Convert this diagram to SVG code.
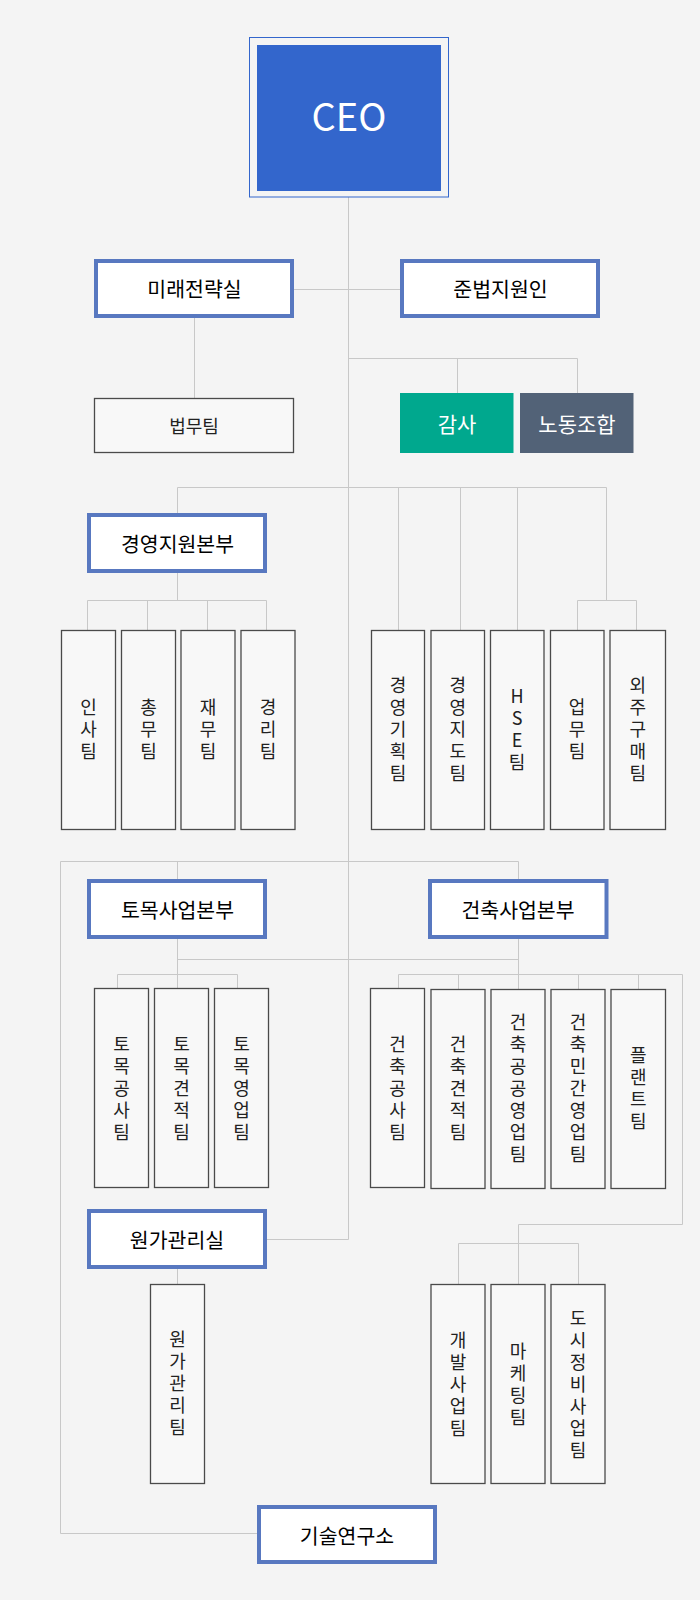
<svg xmlns="http://www.w3.org/2000/svg" width="700" height="1600" viewBox="0 0 700 1600">
<style>
.bg{fill:#f4f4f4}
.ln{stroke:#c8c8c8;stroke-width:1;fill:none}
.hd{fill:#ffffff;stroke:#5878c0;stroke-width:4}
.tm{fill:#f8f8f8;stroke:#4a4a4a;stroke-width:1.3}
.t{font-family:"Noto Sans CJK KR","Noto Sans",sans-serif;text-anchor:middle;dominant-baseline:central}
.ht{font-size:20.5px;fill:#000;font-weight:400}
.vt{font-family:"Noto Sans CJK KR",sans-serif;font-size:18px;fill:#222;text-anchor:middle;writing-mode:vertical-rl;text-orientation:upright;letter-spacing:4px}
.wt{font-size:21px;fill:#ffffff}
</style>
<rect class="bg" x="0" y="0" width="700" height="1600"/>
<g id="connectors">
<path class="ln" d="M348.5 197V1239.5"/>
<path class="ln" d="M294 289.5H400"/>
<path class="ln" d="M194.5 318V398"/>
<path class="ln" d="M348.5 358.5H577.5V393M457.5 358.5V393"/>
<path class="ln" d="M177.5 513V487.5H606.5V600.5M398.5 487.5V630M460.5 487.5V630M517.5 487.5V630"/>
<path class="ln" d="M177.5 573V600.5M87.5 630V600.5H266.5V630M147.5 600.5V630M207.5 600.5V630"/>
<path class="ln" d="M577.5 630V600.5H636.5V630"/>
<path class="ln" d="M257 1533.5H60.5V861.5H518.5V879M177.5 861.5V879"/>
<path class="ln" d="M177.5 937V988M177.5 959.5H518.5M518.5 937V989"/>
<path class="ln" d="M117.5 988V974.5H237.5V988"/>
<path class="ln" d="M398.5 988V974.5H682.5V1224.5H518.5V1284M458.5 974.5V989M578.5 974.5V989M638.5 974.5V989"/>
<path class="ln" d="M458.5 1284V1243.5H578.5V1284"/>
<path class="ln" d="M267 1239.5H348.5"/>
<path class="ln" d="M177.5 1267V1284"/>
</g>
<g id="ceo">
<rect x="249.5" y="37.5" width="199" height="159.5" fill="none" stroke="#3366cc" stroke-width="1"/>
<rect x="257" y="45" width="184" height="146" fill="#3366cc"/>
<text class="t" x="349" y="114" font-size="38" fill="#ffffff">CEO</text>
</g>
<g id="future-strategy">
<rect class="hd" x="96" y="261" width="196" height="55"/>
<text class="t ht" x="194.5" y="288">미래전략실</text>
</g>
<g id="compliance">
<rect class="hd" x="402" y="261" width="196" height="55"/>
<text class="t ht" x="500.5" y="288">준법지원인</text>
</g>
<g id="legal">
<rect class="tm" x="94.5" y="398.5" width="199" height="54"/>
<text class="t" x="194" y="425" font-size="18" fill="#222">법무팀</text>
</g>
<g id="audit">
<rect x="400" y="393" width="113.5" height="60" fill="#00a88e"/>
<text class="t wt" x="457" y="422.5">감사</text>
</g>
<g id="union">
<rect x="520" y="393" width="113.5" height="60" fill="#526277"/>
<text class="t wt" x="577" y="422.5">노동조합</text>
</g>
<g id="mgmt-support">
<rect class="hd" x="89" y="515" width="176" height="56"/>
<text class="t ht" x="177.5" y="542.5">경영지원본부</text>
</g>
<g id="hr">
<rect class="tm" x="61.5" y="630.5" width="54" height="199"/>
<text class="vt" x="88.5" y="731">인사팀</text>
</g>
<g id="general-affairs">
<rect class="tm" x="121.5" y="630.5" width="54" height="199"/>
<text class="vt" x="148.5" y="731">총무팀</text>
</g>
<g id="finance">
<rect class="tm" x="181" y="630.5" width="54" height="199"/>
<text class="vt" x="208" y="731">재무팀</text>
</g>
<g id="accounting">
<rect class="tm" x="241" y="630.5" width="54" height="199"/>
<text class="vt" x="268" y="731">경리팀</text>
</g>
<g id="mgmt-planning">
<rect class="tm" x="371.5" y="630.5" width="53" height="199"/>
<text class="vt" x="398" y="731">경영기획팀</text>
</g>
<g id="mgmt-guidance">
<rect class="tm" x="431" y="630.5" width="53.5" height="199"/>
<text class="vt" x="457.7" y="731">경영지도팀</text>
</g>
<g id="hse">
<rect class="tm" x="490.5" y="630.5" width="53.5" height="199"/>
<text class="vt" x="517" y="731">HSE팀</text>
</g>
<g id="business">
<rect class="tm" x="550.5" y="630.5" width="53.5" height="199"/>
<text class="vt" x="577" y="731">업무팀</text>
</g>
<g id="procurement">
<rect class="tm" x="610" y="630.5" width="55.5" height="199"/>
<text class="vt" x="637.7" y="731">외주구매팀</text>
</g>
<g id="civil-hq">
<rect class="hd" x="89" y="881" width="176" height="56"/>
<text class="t ht" x="177.5" y="909">토목사업본부</text>
</g>
<g id="arch-hq">
<rect class="hd" x="430" y="881" width="176.5" height="56"/>
<text class="t ht" x="518" y="909">건축사업본부</text>
</g>
<g id="civil-construction">
<rect class="tm" x="94.5" y="988.5" width="54" height="199"/>
<text class="vt" x="121.5" y="1090">토목공사팀</text>
</g>
<g id="civil-estimate">
<rect class="tm" x="154.5" y="988.5" width="54" height="199"/>
<text class="vt" x="181.5" y="1090">토목견적팀</text>
</g>
<g id="civil-sales">
<rect class="tm" x="214.5" y="988.5" width="54" height="199"/>
<text class="vt" x="241.5" y="1090">토목영업팀</text>
</g>
<g id="arch-construction">
<rect class="tm" x="370.5" y="988.5" width="54" height="199"/>
<text class="vt" x="397.5" y="1090">건축공사팀</text>
</g>
<g id="arch-estimate">
<rect class="tm" x="431" y="989.5" width="54" height="199"/>
<text class="vt" x="458" y="1090">건축견적팀</text>
</g>
<g id="arch-public-sales">
<rect class="tm" x="491" y="989.5" width="54" height="199"/>
<text class="vt" x="518" y="1090">건축공공영업팀</text>
</g>
<g id="arch-private-sales">
<rect class="tm" x="551" y="989.5" width="54" height="199"/>
<text class="vt" x="578" y="1090">건축민간영업팀</text>
</g>
<g id="plant">
<rect class="tm" x="611" y="989.5" width="54.5" height="199"/>
<text class="vt" x="638.3" y="1090">플랜트팀</text>
</g>
<g id="cost-office">
<rect class="hd" x="89" y="1211" width="176" height="56"/>
<text class="t ht" x="177" y="1239">원가관리실</text>
</g>
<g id="cost-team">
<rect class="tm" x="150.5" y="1284.5" width="54" height="199"/>
<text class="vt" x="177.5" y="1385">원가관리팀</text>
</g>
<g id="development">
<rect class="tm" x="431" y="1284.5" width="54" height="199"/>
<text class="vt" x="458" y="1386">개발사업팀</text>
</g>
<g id="marketing">
<rect class="tm" x="491" y="1284.5" width="54" height="199"/>
<text class="vt" x="518" y="1386">마케팅팀</text>
</g>
<g id="urban-renewal">
<rect class="tm" x="551" y="1284.5" width="54" height="199"/>
<text class="vt" x="578" y="1386">도시정비사업팀</text>
</g>
<g id="rnd">
<rect class="hd" x="259" y="1507" width="176" height="55"/>
<text class="t ht" x="347" y="1535">기술연구소</text>
</g>
</svg>
